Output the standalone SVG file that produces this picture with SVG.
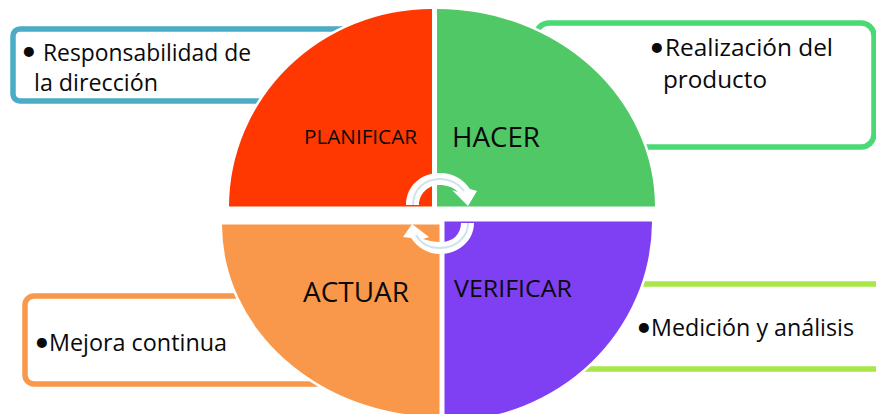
<svg xmlns="http://www.w3.org/2000/svg" width="876" height="414" viewBox="0 0 876 414">
<style>
text{font-family:"Open Sans","Noto Sans","Liberation Sans",sans-serif;fill:#0a0a0a}
.t{font-size:23px}
.b{font-family:Lato,"Open Sans",sans-serif;font-size:27px}
.box{fill:#fff;stroke-width:5.5}
.w{stroke:#fff;stroke-width:5;paint-order:stroke}
.ring{fill:#fff}
.stripe{fill:none;stroke:#d0e2ea;stroke-width:2}
</style>
<rect width="876" height="414" fill="#fff"/>
<g id="box-responsabilidad"><rect class="box" x="13" y="29" width="345" height="72" rx="7" stroke="#4bacc6"/></g>
<g id="box-realizacion"><rect class="box" x="536" y="23" width="338" height="124" rx="13" stroke="#4bd975"/></g>
<g id="box-mejora"><rect class="box" x="25" y="296" width="300" height="88" rx="9" stroke="#f9984a"/></g>
<g id="box-medicion"><path d="M630 284H876M570 369H876" fill="none" stroke="#a8e64a" stroke-width="5.5"/></g>
<g id="planificar"><path class="w" d="M432 9V206.500H229A203 198 0 0 1 432 9Z" fill="#ff3700"/><text x="304" y="144" font-size="20" textLength="113" lengthAdjust="spacingAndGlyphs">PLANIFICAR</text></g>
<g id="hacer"><path class="w" d="M437 9V206.500H655A218 198 0 0 0 437 9Z" fill="#50c866"/><text x="452" y="147" font-size="26.500" textLength="88" lengthAdjust="spacingAndGlyphs">HACER</text></g>
<g id="actuar"><path class="w" d="M439.500 224.500V416.500A218 192 0 0 1 222 224.500Z" fill="#f9984a"/><text x="303" y="302" font-size="27" textLength="106" lengthAdjust="spacingAndGlyphs">ACTUAR</text></g>
<g id="verificar"><path class="w" d="M444.500 221.500V421A208 200 0 0 0 652 221.500Z" fill="#7f3ff2"/><text x="454" y="297" font-size="23.500" textLength="118" lengthAdjust="spacingAndGlyphs">VERIFICAR</text></g>
<g id="connectors">
<path class="ring" d="M406 205C406 186 421 173 440 173C453 173 463 179 470 189L477 191L468 206L452 190L458 192C453 187 447 185 439 185C428 185 419 194 419 205Z"/>
<path class="stripe" d="M413 205C413 189 425 179 440 179C450 179 458 183 464 191"/>
<path class="ring" d="M474 223C474 241 458 254 440 254C428 254 418 248 411 238L403 237L412 224L429 237L423 239C429 241 434 242 441 242C453 242 461 234 461 223Z"/>
<path class="stripe" d="M468 223C468 237 456 248 440 248C430 248 421 244 416 235"/>
</g>
<text class="b" x="21" y="60">•</text>
<text class="t" x="43" y="61" textLength="208" lengthAdjust="spacingAndGlyphs">Responsabilidad de</text>
<text class="t" x="34" y="91" textLength="124" lengthAdjust="spacingAndGlyphs">la dirección</text>
<text class="b" x="649" y="56">•</text>
<text class="t" x="665" y="56" textLength="168" lengthAdjust="spacingAndGlyphs">Realización del</text>
<text class="t" x="663" y="88" textLength="104" lengthAdjust="spacingAndGlyphs">producto</text>
<text class="b" x="34" y="351">•</text>
<text class="t" x="49" y="351" textLength="178" lengthAdjust="spacingAndGlyphs">Mejora continua</text>
<text class="b" x="636" y="336">•</text>
<text class="t" x="651" y="336" textLength="203" lengthAdjust="spacingAndGlyphs">Medición y análisis</text>
</svg>
